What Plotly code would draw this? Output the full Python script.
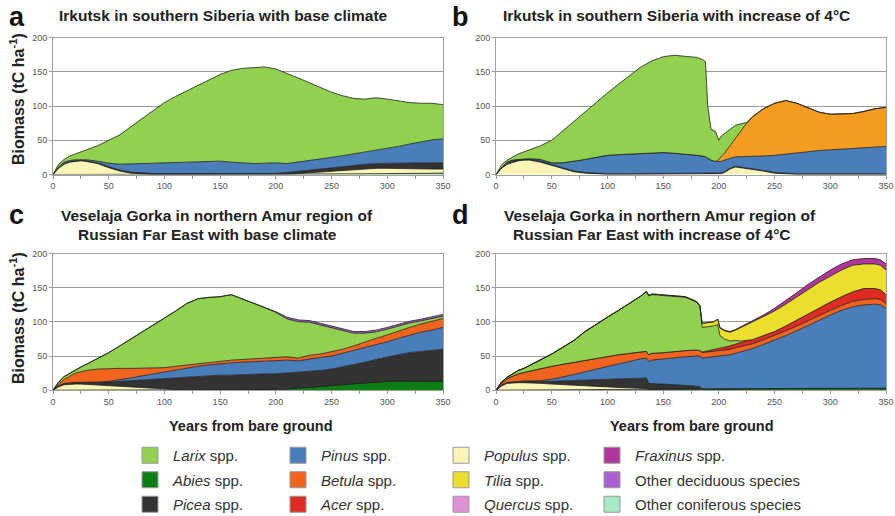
import plotly.graph_objects as go

# ---------------- DATA (stacked/cumulative biomass, tC/ha: upper edge of each species band) -------------
A_YEARS = [0, 5, 10, 15, 20, 25, 30, 40, 50, 60, 70, 80, 90, 100, 110, 120, 130, 140, 150, 160, 170, 180,
           190, 200, 210, 220, 230, 240, 250, 260, 270, 280, 290, 300, 310, 320, 330, 340, 350]
A_ABIES = [0]*28 + [0.5, 0.8, 1, 1, 1.2, 1.5, 1.5, 1.8, 2, 2, 2]
A_POPULUS = [0, 9, 15, 18, 19, 20, 19, 16, 10, 5, 2, 0.5] + [0]*12 + \
            [0.5, 1.5, 2.5, 4, 5.5, 6.5, 7.5, 8.5, 9, 9, 8.5, 8, 8, 8, 8]
A_PICEA = [0, 9.5, 16, 19, 20, 21, 20, 17, 11.5, 6.5, 3.5, 2] + [1.5]*12 + \
          [3, 4.5, 6, 8, 10, 11.5, 13, 15, 16, 16.5, 16.5, 17, 17, 17, 17]
A_PINUS = [0, 11, 18, 20.5, 21.5, 22, 21.5, 19.5, 16.5, 15, 15, 16, 16.5, 17, 17.5, 18, 19, 19.5, 19.5, 18,
           16.5, 16, 16.5, 17, 16, 18, 20, 22, 25, 27.5, 30, 33, 35.5, 38, 41, 44.5, 48, 50.5, 52]
A_LARIX = [0, 15, 22, 27, 30, 33, 35, 42, 50, 58, 70, 82, 94, 105, 114, 122, 131, 139, 146, 152, 155, 156,
           157, 154, 148, 141, 134, 127, 120, 115, 111, 110, 112, 110, 107, 105, 104, 104, 102]

B_YEARS = [0, 5, 10, 15, 20, 25, 30, 40, 50, 60, 70, 80, 90, 100, 110, 120, 130, 140, 150, 160, 170, 180,
           185, 188, 190, 193, 197, 200, 202, 205, 210, 215, 220, 225, 230, 240, 250, 260, 270, 280, 290, 300,
           310, 320, 330, 340, 350]
B_POPULUS = [0, 9, 15, 18, 20, 21, 21, 18, 13, 8, 4, 2, 0.5] + [0]*14 + \
            [0, 1, 3, 8, 11, 10, 9, 8, 5, 2, 0.5] + [0]*9
B_PICEA = [0, 10, 16, 19.5, 21, 22, 22, 19.5, 14.5, 9, 5, 3, 1.5, 1, 1, 1, 1, 1.5, 1.5, 1.5, 1.5, 2,
           2, 2.5, 2.5, 2, 2, 1.5, 2, 4, 9, 12, 11, 10, 9, 6, 3, 1.5, 1, 1, 1, 1, 1, 1, 1, 1, 1]
B_PINUS = [0, 10, 18, 21, 22, 23, 23, 22, 17, 17, 19, 22, 25, 28, 29, 30, 31, 32, 32, 31, 30, 28,
           27, 26, 24, 21, 19, 19, 19, 21, 24, 26, 26, 26, 26, 27, 28, 30, 31, 33, 35, 36, 37, 38, 38, 40, 41]
B_BETULA = [0, 10, 18, 21, 22, 23, 23, 22, 17, 17, 19, 22, 25, 28, 29, 30, 31, 32, 32, 31, 30, 28,
            27, 26, 24, 21, 19, 22, 26, 31, 42, 53, 65, 75, 84, 96, 104, 108, 104, 97, 91, 88, 89, 89, 92, 96, 98]
B_LARIX = [0, 14, 21, 26, 30, 33, 36, 42, 50, 64, 78, 92, 106, 119, 132, 145, 157, 166, 172, 174, 172, 171,
           168, 165, 100, 66, 63, 50, 56, 60, 66, 72, 74, 76, 84, 96, 104, 108, 104, 97, 91, 88, 89, 89, 92, 96, 98]

C_YEARS = A_YEARS
C_ABIES = [0]*18 + [0.3, 0.5, 0.5, 0.7, 0.8, 1] + [2, 3, 4, 5, 6.5, 8, 9.5, 11, 12, 13, 13.5, 13.5, 13, 13, 13]
C_POPULUS = [0, 5, 8, 9, 9, 9, 8.5, 7, 6, 5, 4, 3, 2, 1.5, 1, 0.5, 0.3, 0.2] + [0.3, 0.5, 0.5, 0.7, 0.8, 1] + \
            [2, 3, 4, 5, 6.5, 8, 9.5, 11, 12, 13, 13.5, 13.5, 13, 13, 13]
C_PICEA = [0, 6, 9.5, 10.5, 11, 11, 11, 11.5, 12, 13, 14, 15, 16, 17, 18, 19, 20, 21, 22, 22, 23, 23,
           24, 24, 25, 26, 27, 29, 31, 34, 37, 41, 45, 49, 52, 55, 57, 59, 60]
C_PINUS = [0, 6.5, 10, 11, 11.5, 11.5, 11.5, 12, 13, 15, 18, 21, 24, 27, 30, 33, 35, 37, 39, 40, 41, 42,
           43, 44, 44, 43, 46, 48, 50, 54, 58, 63, 67, 71, 76, 81, 85, 88, 92]
C_BETULA = [0, 9, 16, 21, 25, 27, 29, 31, 32, 32, 32, 32, 32, 33, 35, 37, 39, 41, 42, 44, 45, 46,
            47, 48, 49, 47, 51, 53, 56, 60, 65, 71, 76, 81, 87, 92, 97, 101, 105]
C_LARIX = [0, 12, 20, 25, 30, 34, 38, 46, 55, 65, 75, 85, 95, 105, 116, 127, 134, 136, 137, 140, 134, 128,
           121, 114, 104.5, 100.5, 99.5, 95.5, 91.5, 87.5, 83.5, 83.5, 85.5, 89.5, 94.5, 98.5, 101.5, 104.5, 108.5]
C_OTHER_DEC = [0, 12, 20, 25, 30, 34, 38, 46, 55, 65, 75, 85, 95, 105, 116, 127, 134, 136, 137, 140, 134, 128,
               121, 115, 107, 103, 102, 98, 94, 90, 86, 86, 88, 92, 97, 101, 104, 107, 111]

D_YEARS = [0, 5, 10, 15, 20, 25, 30, 40, 50, 60, 70, 80, 90, 100, 110, 120, 130, 135, 137, 140, 150, 160,
           170, 180, 183, 185, 190, 195, 199, 201, 205, 210, 215, 220, 230, 240, 250, 260, 270, 280, 290, 300,
           310, 320, 330, 340, 345, 350]
D_ABIES = [0]*8 + [0.3, 0.5, 0.7, 0.8, 1, 1, 1.2, 1.3, 1.5, 1.5, 1.5, 1.5, 1.6, 1.8, 2, 2, 2, 2, 2, 2,
                   2, 2, 2, 2, 2, 2.2, 2.3, 2.5, 2.6, 2.8, 3, 3, 3, 3, 3, 3, 3, 3, 3, 3]
D_POPULUS = [0, 6, 10, 11, 11, 11, 11, 10, 9, 8, 7, 6, 5, 4.5, 4, 3.5, 3, 2.5,
             1.5, 1.5, 1.6, 1.8, 2, 2, 2, 2, 2, 2, 2, 2, 2, 2, 2, 2.2, 2.3, 2.5, 2.6, 2.8,
             3, 3, 3, 3, 3, 3, 3, 3, 3, 3]
D_PICEA = [0, 7, 11, 12, 12.5, 12.5, 13, 13, 13, 13.5, 14, 14.5, 15, 15.5, 16, 17, 17.5, 18,
           10, 10, 9, 8, 7, 6, 5.5, 2, 2, 2, 2, 2, 2, 2, 2, 2.2, 2.3, 2.5, 2.6, 2.8,
           3, 3, 3, 3, 3, 3, 3, 3, 3, 3]
D_PINUS = [0, 7.5, 11.5, 12.5, 13, 13.5, 13.5, 14, 16, 19, 23, 27, 31, 35, 39, 43, 46, 47,
           42, 44, 46, 48, 49, 50, 50, 47, 48, 49, 50, 50, 51, 52, 54, 56, 61, 67, 73, 80,
           87, 95, 103, 110, 117, 122, 125, 126, 125, 120]
D_BETULA = [0, 10, 17, 21, 24, 26, 28, 32, 35, 38, 41, 44, 47, 49, 52, 54, 56, 57,
            52, 54, 55, 57, 58, 59, 58, 55, 56, 57, 58, 58, 59, 60, 62, 64, 68, 74, 80, 87,
            94, 102, 110, 117, 124, 130, 133, 134, 133, 127]
D_ACER = [0, 10, 17, 21, 24, 26, 28, 32, 35, 38, 41, 44, 47, 49, 52, 54, 56, 57,
          52, 54, 55, 57, 58, 59, 58, 56, 57.5, 59, 61, 61, 63, 65, 67.5, 70, 74, 80, 86, 94,
          103, 112, 121, 129, 137, 144, 149, 149, 147, 140]
D_LARIX = [0, 12, 19, 24, 29, 32, 36, 44, 53, 63, 73, 86, 97, 107, 117, 127, 138, 144,
           138, 140, 139, 138, 136, 129, 123, 92, 93, 94, 96, 80, 75, 72, 73, 72, 74, 80, 86, 94,
           103, 112, 121, 129, 137, 144, 149, 149, 147, 140]
D_TILIA = [0, 12, 19, 24, 29, 32, 36, 44, 53, 63, 73, 86, 97, 107, 117, 127, 138, 145,
           139, 141, 140, 139, 137, 130, 124, 98, 99, 100, 104, 91, 87, 85, 88, 92, 100, 107, 116, 126,
           137, 148, 158, 167, 176, 183, 185, 185, 183, 176]
D_FRAXINUS = [0, 12, 19, 24, 29, 32, 36, 44, 53, 63, 73, 86, 97, 107, 117, 127, 138, 145,
              139, 141, 140, 139, 137, 130, 124, 98, 99, 100, 104, 92, 88, 86, 89, 93, 102, 110, 120, 131,
              143, 155, 166, 176, 185, 191, 193, 193, 191, 185]

SPECIES = ["<i>Larix</i> spp.", "<i>Abies</i> spp.", "<i>Picea</i> spp.",
           "<i>Pinus</i> spp.", "<i>Betula</i> spp.", "<i>Acer</i> spp.",
           "<i>Populus</i> spp.", "<i>Tilia</i> spp.", "<i>Quercus</i> spp.",
           "<i>Fraxinus</i> spp.", "Other deciduous species", "Other coniferous species"]
COLORS = {
    "Larix": "#92D050", "Abies": "#0D7E15", "Picea": "#333333", "Pinus": "#4A7EBB",
    "Betula": "#F0641E", "Acer": "#DE2B24", "Populus": "#FAF4B6", "Tilia": "#ECDF2C",
    "Quercus": "#E091D6", "Fraxinus": "#B0369E", "Other deciduous": "#A95FD0",
    "Other coniferous": "#A7E9C7",
}
BETULA_B_COLOR = "#F39C1F"

TITLES = ["Irkutsk in southern Siberia with base climate",
          "Irkutsk in southern Siberia with increase of 4°C",
          "Veselaja Gorka in northern Amur region of",
          "Russian Far East with base climate",
          "Veselaja Gorka in northern Amur region of",
          "Russian Far East with increase of 4°C"]
Y_TITLE = "Biomass (tC ha<sup>-1</sup>)"
X_TITLE = "Years from bare ground"
X_TICKS = [0, 50, 100, 150, 200, 250, 300, 350]
Y_TICKS = [0, 50, 100, 150, 200]

# ---------------- FIGURE -------------
W, H = 895, 516
FONT = "Liberation Sans, Arial, sans-serif"


def px(x):
    return x / W


def py(y):
    return 1 - y / H


panels = [
    ("x", "y", A_YEARS, [("Abies", A_ABIES, None), ("Populus", A_POPULUS, None), ("Picea", A_PICEA, None),
                         ("Pinus", A_PINUS, None), ("Larix", A_LARIX, None)]),
    ("x2", "y2", B_YEARS, [("Populus", B_POPULUS, None), ("Picea", B_PICEA, None), ("Pinus", B_PINUS, None),
                           ("Betula", B_BETULA, BETULA_B_COLOR), ("Larix", B_LARIX, None)]),
    ("x3", "y3", C_YEARS, [("Abies", C_ABIES, None), ("Populus", C_POPULUS, None), ("Picea", C_PICEA, None),
                           ("Pinus", C_PINUS, None), ("Betula", C_BETULA, None), ("Larix", C_LARIX, None),
                           ("Other deciduous", C_OTHER_DEC, None)]),
    ("x4", "y4", D_YEARS, [("Abies", D_ABIES, None), ("Populus", D_POPULUS, None), ("Picea", D_PICEA, None),
                           ("Pinus", D_PINUS, None), ("Betula", D_BETULA, None), ("Acer", D_ACER, None),
                           ("Larix", D_LARIX, None), ("Tilia", D_TILIA, None), ("Fraxinus", D_FRAXINUS, None)]),
]

fig = go.Figure()
for xa, ya, years, layers in panels:
    for i, (sp, vals, col) in enumerate(layers):
        fig.add_trace(go.Scatter(
            x=years, y=vals, xaxis=xa, yaxis=ya, mode="lines",
            line=dict(color="#1e1e1e", width=0.8),
            fill="tozeroy" if i == 0 else "tonexty",
            fillcolor=col or COLORS[sp], showlegend=False, hoverinfo="skip"))

# legend entries (4 columns of 3)
legend_ids = ["legend", "legend2", "legend3", "legend4"]
keys = list(COLORS.keys())
for k, (name, key) in enumerate(zip(SPECIES, keys)):
    fig.add_trace(go.Scatter(
        x=[None], y=[None], mode="markers", name=name,
        marker=dict(symbol="square", size=16, color=COLORS[key], line=dict(color="#9a9a9a", width=1)),
        legend=legend_ids[k // 3], legendgroup=name, showlegend=True, hoverinfo="skip"))

x_domains = [(53, 443), (496, 886), (53, 443), (496, 886)]
y_domains = [(37.5, 174.5), (37.5, 174.5), (253.7, 390.2), (253.7, 390.2)]
axes = {}
for n in range(4):
    sfx = "" if n == 0 else str(n + 1)
    axes["xaxis" + sfx] = dict(
        domain=[px(x_domains[n][0]), px(x_domains[n][1])], anchor="y" + sfx, range=[0, 350],
        tickvals=X_TICKS, ticks="outside", ticklen=3, tickcolor="#999", showline=True,
        linecolor="#a0a0a0", mirror=True, showgrid=False, zeroline=False, automargin=False,
        minor=dict(dtick=25, ticks="outside", ticklen=3, tickcolor="#999", showgrid=False),
        tickfont=dict(size=9, color="#555", family=FONT))
    axes["yaxis" + sfx] = dict(
        domain=[py(y_domains[n][1]), py(y_domains[n][0])], anchor="x" + sfx, range=[0, 200],
        tickvals=Y_TICKS, ticks="outside", ticklen=3, tickcolor="#999", showline=True,
        linecolor="#a0a0a0", mirror=True, showgrid=True, gridcolor="#9c9c9c", gridwidth=1,
        zeroline=False, automargin=False, tickfont=dict(size=9, color="#555", family=FONT))

legend_x = [127, 275, 438, 589]
legends = {}
for k, lid in enumerate(legend_ids):
    legends[lid] = dict(
        x=px(legend_x[k]), y=py(439), xanchor="left", yanchor="top", orientation="v",
        bgcolor="rgba(0,0,0,0)", borderwidth=0, font=dict(size=15, color="#333", family=FONT),
        tracegroupgap=2, itemsizing="trace", itemwidth=36, traceorder="grouped")

ann = []


def label(text, x, y, size, anchor="left", color="#222", angle=0):
    ann.append(dict(text=text, x=px(x), y=py(y), xref="paper", yref="paper", showarrow=False,
                    xanchor=anchor, yanchor="middle", textangle=angle,
                    font=dict(size=size, color=color, family=FONT)))


label("<b>a</b>", 7, 17, 27, color="#111")
label("<b>b</b>", 450, 17, 27, color="#111")
label("<b>c</b>", 7, 215, 27, color="#111")
label("<b>d</b>", 450, 215, 27, color="#111")
label("<b>%s</b>" % TITLES[0], 57, 15, 15.5)
label("<b>%s</b>" % TITLES[1], 501, 15, 15.5)
label("<b>%s</b>" % TITLES[2], 59, 215, 15.5)
label("<b>%s</b>" % TITLES[3], 76, 235, 15.5)
label("<b>%s</b>" % TITLES[4], 502, 215, 15.5)
label("<b>%s</b>" % TITLES[5], 511, 235, 15.5)
label("<b>%s</b>" % Y_TITLE, 17, 99, 16, anchor="center", angle=-90)
label("<b>%s</b>" % Y_TITLE, 17, 318, 16, anchor="center", angle=-90)
label("<b>%s</b>" % X_TITLE, 251, 426, 14.5, anchor="center")
label("<b>%s</b>" % X_TITLE, 692, 426, 14.5, anchor="center")

fig.update_layout(
    width=W, height=H, margin=dict(l=0, r=0, t=0, b=0, autoexpand=False),
    paper_bgcolor="white", plot_bgcolor="white",
    font=dict(family=FONT, color="#333"),
    annotations=ann, **axes, **legends)

fig.write_html("out.html")
